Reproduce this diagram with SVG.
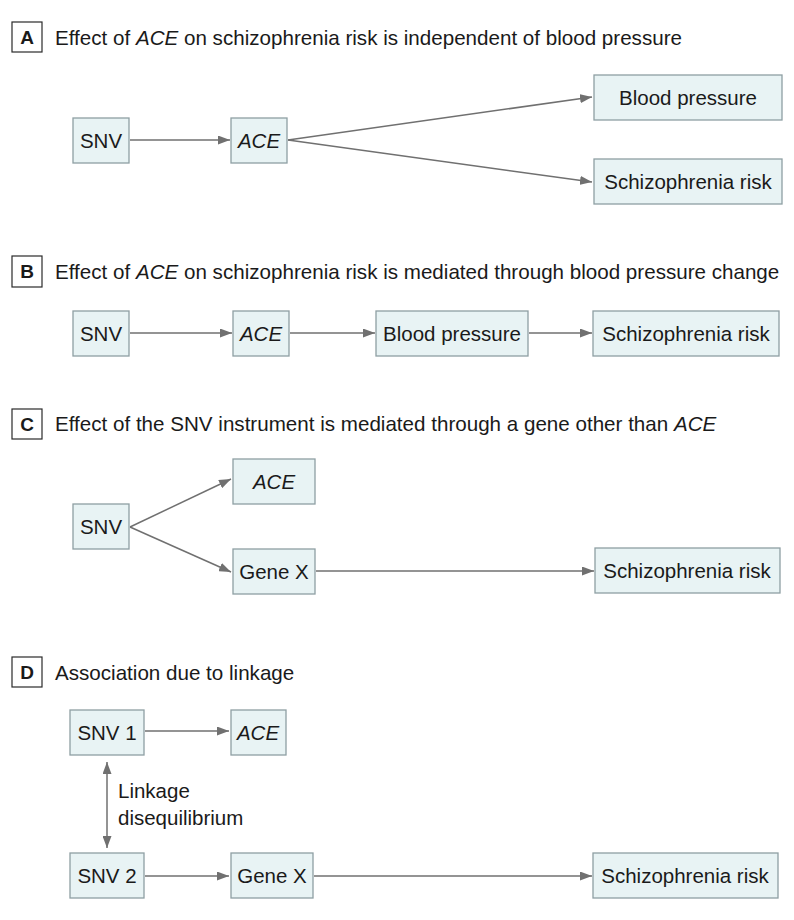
<svg xmlns="http://www.w3.org/2000/svg" width="794" height="920" viewBox="0 0 794 920">
<style>
  .bg{fill:#ffffff}
  .node rect{fill:#e8f3f4;stroke:#8e9fa3;stroke-width:1.3}
  .node text{font-family:"Liberation Sans",Arial,sans-serif;font-size:20.5px;fill:#1a1a1a;text-anchor:middle}
  .it{font-style:italic}
  .lbl rect{fill:#ffffff;stroke:#2a2a2a;stroke-width:1.2}
  .lbl text{font-family:"Liberation Sans",Arial,sans-serif;font-size:19px;font-weight:bold;fill:#1a1a1a;text-anchor:middle}
  .title{font-family:"Liberation Sans",Arial,sans-serif;font-size:20.6px;fill:#1a1a1a}
  .note{font-family:"Liberation Sans",Arial,sans-serif;font-size:20.5px;fill:#1a1a1a}
  .edges line{stroke:#707070;stroke-width:1.5;fill:none}
</style>
<defs>
  <marker id="ah" viewBox="0 0 12 9" refX="12" refY="4.5" markerWidth="12" markerHeight="9" markerUnits="userSpaceOnUse" orient="auto-start-reverse">
    <path d="M0,0 L12,4.5 L0,9 z" fill="#707070"/>
  </marker>
</defs>
<rect class="bg" x="0" y="0" width="794" height="920"/>

<!-- Panel labels and titles -->
<g id="panelA">
  <g class="lbl"><rect x="12" y="22" width="30" height="30"/><text x="27" y="44">A</text></g>
  <text class="title" x="55" y="45">Effect of <tspan class="it">ACE</tspan> on schizophrenia risk is independent of blood pressure</text>
</g>
<g id="panelB">
  <g class="lbl"><rect x="12" y="256" width="30" height="31"/><text x="27" y="278">B</text></g>
  <text class="title" x="55" y="279">Effect of <tspan class="it">ACE</tspan> on schizophrenia risk is mediated through blood pressure change</text>
</g>
<g id="panelC">
  <g class="lbl"><rect x="12" y="409" width="30" height="30"/><text x="27" y="431">C</text></g>
  <text class="title" x="55" y="431">Effect of the SNV instrument is mediated through a gene other than <tspan class="it">ACE</tspan></text>
</g>
<g id="panelD">
  <g class="lbl"><rect x="12" y="657" width="30" height="30"/><text x="27" y="679">D</text></g>
  <text class="title" x="55" y="680">Association due to linkage</text>
</g>

<!-- Connectors -->
<g class="edges">
  <line x1="130" y1="140" x2="230" y2="140" marker-end="url(#ah)"/>
  <line x1="288" y1="140" x2="592" y2="97" marker-end="url(#ah)"/>
  <line x1="288" y1="140" x2="592" y2="182" marker-end="url(#ah)"/>

  <line x1="130" y1="333" x2="232" y2="333" marker-end="url(#ah)"/>
  <line x1="290" y1="333" x2="375" y2="333" marker-end="url(#ah)"/>
  <line x1="529" y1="333" x2="592" y2="333" marker-end="url(#ah)"/>

  <line x1="130" y1="527" x2="231" y2="479" marker-end="url(#ah)"/>
  <line x1="130" y1="527" x2="231" y2="572" marker-end="url(#ah)"/>
  <line x1="316" y1="571" x2="594" y2="571" marker-end="url(#ah)"/>

  <line x1="145" y1="731" x2="229" y2="731" marker-end="url(#ah)"/>
  <line x1="107" y1="762" x2="107" y2="848" marker-start="url(#ah)" marker-end="url(#ah)"/>
  <line x1="145" y1="876" x2="229" y2="876" marker-end="url(#ah)"/>
  <line x1="314" y1="876" x2="592" y2="876" marker-end="url(#ah)"/>
</g>
<text class="note" x="118" y="798">Linkage</text>
<text class="note" x="118" y="825">disequilibrium</text>

<!-- Nodes: A -->
<g id="a_snv" class="node"><rect x="73" y="118" width="56" height="45"/><text x="101" y="148">SNV</text></g>
<g id="a_ace" class="node"><rect x="231" y="118" width="56" height="45"/><text x="259" y="148" class="it">ACE</text></g>
<g id="a_bp" class="node"><rect x="594" y="75" width="188" height="45"/><text x="688" y="105">Blood pressure</text></g>
<g id="a_sz" class="node"><rect x="594" y="159" width="188" height="45"/><text x="688" y="189">Schizophrenia risk</text></g>

<!-- Nodes: B -->
<g id="b_snv" class="node"><rect x="73" y="311" width="56" height="45"/><text x="101" y="341">SNV</text></g>
<g id="b_ace" class="node"><rect x="233" y="311" width="56" height="45"/><text x="261" y="341" class="it">ACE</text></g>
<g id="b_bp" class="node"><rect x="376" y="311" width="152" height="45"/><text x="452" y="341">Blood pressure</text></g>
<g id="b_sz" class="node"><rect x="593" y="311" width="186" height="45"/><text x="686" y="341">Schizophrenia risk</text></g>

<!-- Nodes: C -->
<g id="c_snv" class="node"><rect x="73" y="504" width="56" height="45"/><text x="101" y="534">SNV</text></g>
<g id="c_ace" class="node"><rect x="233" y="459" width="82" height="45"/><text x="274" y="489" class="it">ACE</text></g>
<g id="c_genex" class="node"><rect x="233" y="549" width="82" height="45"/><text x="274" y="579">Gene X</text></g>
<g id="c_sz" class="node"><rect x="595" y="548" width="185" height="45"/><text x="687" y="578">Schizophrenia risk</text></g>

<!-- Nodes: D -->
<g id="d_snv1" class="node"><rect x="70" y="710" width="74" height="45"/><text x="107" y="740">SNV 1</text></g>
<g id="d_ace" class="node"><rect x="231" y="710" width="55" height="45"/><text x="258" y="740" class="it">ACE</text></g>
<g id="d_snv2" class="node"><rect x="70" y="853" width="74" height="45"/><text x="107" y="883">SNV 2</text></g>
<g id="d_genex" class="node"><rect x="231" y="853" width="82" height="45"/><text x="272" y="883">Gene X</text></g>
<g id="d_sz" class="node"><rect x="593" y="853" width="185" height="45"/><text x="685" y="883">Schizophrenia risk</text></g>
</svg>
